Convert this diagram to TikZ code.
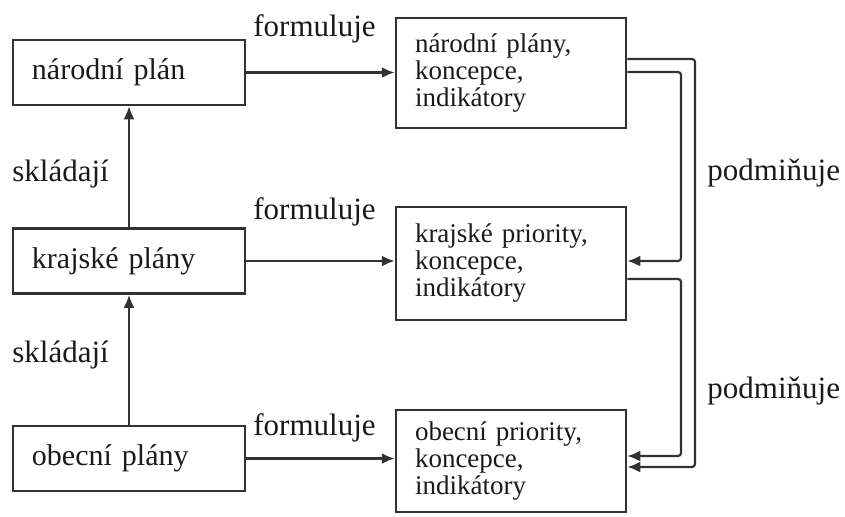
\documentclass[tikz,border=0pt]{standalone}
\usepackage{fontspec}
\setmainfont{Liberation Serif}
\usepackage{tikz}
\usetikzlibrary{arrows,arrows.meta,calc,positioning}
\definecolor{linegray}{RGB}{50,50,50}
\definecolor{textdark}{RGB}{30,25,25}

\begin{document}
\begin{tikzpicture}[x=0.5pt,y=-0.5pt,
  plan/.style={draw=linegray,line width=1.25pt,inner xsep=9.5pt,inner ysep=0pt,text width=97pt,align=left,minimum height=32.5pt,font=\fontsize{15}{18}\selectfont,text=textdark},
  goal/.style={draw=linegray,line width=1.25pt,inner xsep=9.5pt,inner ysep=0pt,text width=96pt,align=left,font=\fontsize{13.5}{13.5}\selectfont,text=textdark},
  lbl/.style={anchor=base west,inner sep=0pt,font=\fontsize{15.5}{18}\selectfont,text=textdark},
  link/.style={line width=1.1pt,draw=linegray,-{Latex[length=6.5pt,width=5.5pt]}},
  feed/.style={link,rounded corners=1.5pt}]
\useasboundingbox (0,0) rectangle (845,516);

% plans on the left
\node[plan] (national) at (129,72.5) {národní plán};
\node[plan] (regional) at (129,261) {krajské plány};
\node[plan] (local) at (129,458.5) {obecní plány};

% priorities on the right
\node[goal,minimum height=55pt] (natgoal) at (511,73) {národní plány,\\ koncepce,\\ indikátory};
\node[goal,minimum height=56.5pt] (reggoal) at (511,263.5) {krajské priority,\\ koncepce,\\ indikátory};
\node[goal,minimum height=51pt] (locgoal) at (511,461) {obecní priority,\\ koncepce,\\ indikátory};

\draw[link] (regional.north) -- (national.south);
\draw[link] (local.north) -- (regional.south);

\draw[link] (national.east) -- (national.east -| natgoal.west);
\draw[link] (regional.east) -- (regional.east -| reggoal.west);
\draw[link] (local.east) -- (local.east -| locgoal.west);

% feedback loops
\draw[feed] (natgoal.east |- 0,59) -- (695,59) -- (695,467) -- (locgoal.east |- 0,467);
\draw[feed] (natgoal.east |- 0,72) -- (681,72) -- (681,261) -- (reggoal.east |- 0,261);
\draw[feed] (reggoal.east |- 0,279) -- (681,279) -- (681,456) -- (locgoal.east |- 0,456);

\node[lbl] (form1) at (253,36) {formuluje};
\node[lbl] (form2) at (253,219) {formuluje};
\node[lbl] (form3) at (253,435) {formuluje};
\node[lbl] (cond1) at (707,180) {podmiňuje};
\node[lbl] (cond2) at (707,398) {podmiňuje};
\node[lbl] (comp1) at (12,181) {skládají};
\node[lbl] (comp2) at (12,362) {skládají};
\end{tikzpicture}
\end{document}
